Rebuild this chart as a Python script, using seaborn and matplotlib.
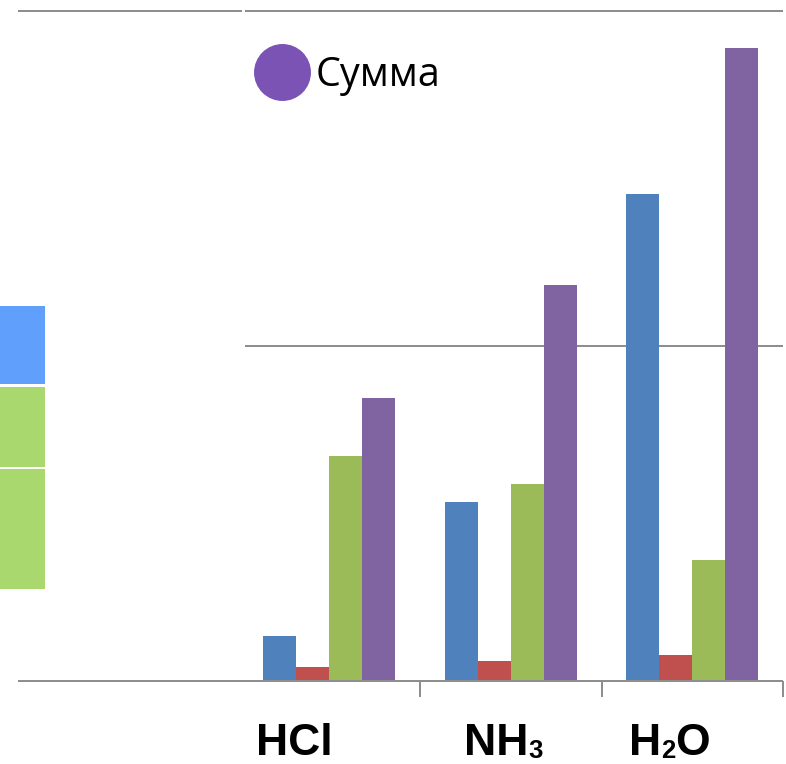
import numpy as np
import pandas as pd
import seaborn as sns
import matplotlib.pyplot as plt
from matplotlib.patches import Rectangle
from matplotlib.lines import Line2D

# Energy of intermolecular interaction components, kJ/mol
molecules = ["HCl", "NH3", "H2O"]
components = ["Ориентационное", "Индукционное", "Дисперсионное", "Сумма"]
orientation = [3.3, 13.3, 36.3]
induction = [1.0, 1.5, 1.9]
dispersion = [16.8, 14.7, 9.0]
total = [21.1, 29.5, 47.2]
grid_values = [25, 50]

# Axis labels with chemical subscripts: (text, is_subscript)
label_parts = [
    [("HCl", False)],
    [("NH", False), ("3", True)],
    [("H", False), ("2", True), ("O", False)],
]

bar_colors = ["#4f81bd", "#c0504d", "#9bbb59", "#8064a2"]
legend_color = "#7a53b5"
grid_color = "#8e8e8e"

df = pd.DataFrame({
    "molecule": np.repeat(molecules, len(components)),
    "component": components * len(molecules),
    "energy": np.ravel(np.column_stack([orientation, induction, dispersion, total])),
})

W, H = 786, 764
sns.set_theme(style="white")
plt.rcParams["font.family"] = ["Open Sans", "DejaVu Sans"]

fig = plt.figure(figsize=(W / 100, H / 100), dpi=100)
fig.patch.set_facecolor("white")

ax_x0, ax_x1, ax_base = 18, 783, 680.7
ax = fig.add_axes([ax_x0 / W, 1 - ax_base / H, (ax_x1 - ax_x0) / W, ax_base / H])
ax.set_facecolor("white")

sns.barplot(
    data=df, x="molecule", y="energy", hue="component",
    order=molecules, hue_order=components, palette=bar_colors,
    width=0.727, gap=0, saturation=1, linewidth=0,
    errorbar=None, legend=False, ax=ax,
)

xmin, xmax = -1.716, 2.4986
ax.set_xlim(xmin, xmax)
ax.set_ylim(0, ax_base / 13.4)
for sp in ax.spines.values():
    sp.set_visible(False)
ax.set_xlabel("")
ax.set_ylabel("")
ax.set_yticks([])
ax.set_xticks([0.5, 1.5, 2.5])
ax.set_xticklabels([])
ax.tick_params(axis="x", bottom=True, length=11.5, width=1.44,
               color=grid_color, direction="out")

# horizontal gridlines and category axis line
lw = 1.44
ax.hlines(grid_values[1], xmin, -0.482, color=grid_color, lw=lw, zorder=0, clip_on=False)
ax.hlines(grid_values[1], -0.4656, xmax, color=grid_color, lw=lw, zorder=0, clip_on=False)
ax.hlines(grid_values[0], -0.4656, xmax, color=grid_color, lw=lw, zorder=0, clip_on=False)
ax.hlines(0, xmin, xmax, color=grid_color, lw=lw, zorder=3, clip_on=False)

# legend entry for the total
handle = Line2D([], [], marker="o", linestyle="none", markersize=41,
                markerfacecolor=legend_color, markeredgewidth=0)
ax.legend(handles=[handle], labels=["Сумма"], loc="center left",
          bbox_to_anchor=(253 / W, 1 - 75.5 / H), bbox_transform=fig.transFigure,
          frameon=False, fontsize=28.5, labelcolor="black",
          handlelength=1.44, handletextpad=0.14,
          borderpad=0, borderaxespad=0)

# side blocks
for (y_top, y_bot, col) in [(306, 384, "#619ffd"), (387, 467, "#a8d86e"), (469, 589, "#a8d86e")]:
    fig.add_artist(Rectangle((0, 1 - y_bot / H), 45 / W, (y_bot - y_top) / H,
                             transform=fig.transFigure, facecolor=col, edgecolor="none"))

# category labels with subscripts
label_font = dict(family=["Liberation Sans", "DejaVu Sans"], weight="bold", color="black")
starts = [256, 464, 629]
base_px, sub_px = 755, 758
renderer = fig.canvas.get_renderer()
for start, parts in zip(starts, label_parts):
    x = start
    for s, sub in parts:
        t = fig.text(x / W, 1 - (sub_px if sub else base_px) / H, s,
                     fontsize=18.5 if sub else 32, ha="left", va="baseline", **label_font)
        bb = t.get_window_extent(renderer)
        x = bb.x1

fig.savefig("out.png", dpi=100, facecolor="white")
